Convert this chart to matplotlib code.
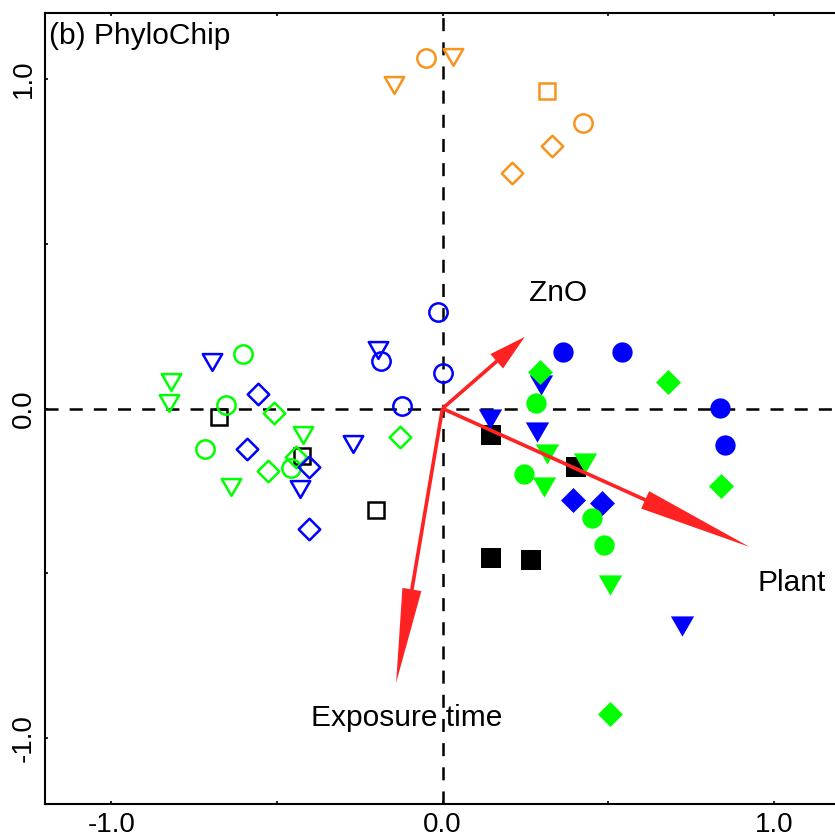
import matplotlib
matplotlib.use("Agg")
import matplotlib.pyplot as plt
from matplotlib.path import Path

plt.rcParams['font.family'] = ['Liberation Sans', 'DejaVu Sans']
plt.rcParams['axes.unicode_minus'] = False

# ---------------- data (site scores) ----------------
# shape codes: o circle, v down-triangle, D diamond, s square
orange_open_x = [-0.049, 0.424, 0.031, -0.145, 0.316, 0.331, 0.211]
orange_open_y = [1.063, 0.865, 1.067, 0.982, 0.964, 0.795, 0.715]
orange_open_shape = ['o', 'o', 'v', 'v', 's', 'D', 'D']

green_open_x = [-0.820, -0.825, -0.603, -0.653, -0.508, -0.716, -0.422, -0.442, -0.457, -0.528, -0.638, -0.127]
green_open_y = [0.081, 0.018, 0.165, 0.011, -0.015, -0.123, -0.080, -0.148, -0.181, -0.191, -0.237, -0.087]
green_open_shape = ['v', 'v', 'o', 'o', 'D', 'o', 'v', 'D', 'o', 'D', 'v', 'D']

blue_open_x = [-0.696, -0.556, -0.590, -0.402, -0.430, -0.404, -0.269, -0.195, -0.185, -0.123, 0.001, -0.015]
blue_open_y = [0.140, 0.043, -0.123, -0.179, -0.244, -0.365, -0.108, 0.177, 0.144, 0.008, 0.109, 0.293]
blue_open_shape = ['v', 'D', 'D', 'D', 'v', 'D', 'v', 'v', 'o', 'o', 'o', 'o']

black_open_x = [-0.674, -0.424, -0.202]
black_open_y = [-0.027, -0.143, -0.308]
black_open_shape = ['s', 's', 's']

black_fill_x = [0.145, 0.404, 0.145, 0.268]
black_fill_y = [-0.080, -0.176, -0.453, -0.461]
black_fill_shape = ['s', 's', 's', 's']

blue_fill_x = [0.363, 0.543, 0.837, 0.852, 0.298, 0.144, 0.285, 0.722, 0.394, 0.481]
blue_fill_y = [0.172, 0.170, 0.002, -0.110, 0.071, -0.033, -0.070, -0.660, -0.277, -0.287]
blue_fill_shape = ['o', 'o', 'o', 'o', 'v', 'v', 'v', 'v', 'D', 'D']

green_fill_x = [0.293, 0.281, 0.682, 0.315, 0.246, 0.305, 0.431, 0.452, 0.489, 0.507, 0.840, 0.505]
green_fill_y = [0.111, 0.018, 0.079, -0.138, -0.198, -0.237, -0.164, -0.332, -0.413, -0.537, -0.234, -0.927]
green_fill_shape = ['D', 'o', 'D', 'v', 'o', 'v', 'v', 'o', 'o', 'v', 'D', 'D']

# environmental vectors (biplot arrows)
env_names = ['ZnO', 'Plant', 'Exposure time']
env_x = [0.248, 0.927, -0.140]
env_y = [0.217, -0.420, -0.832]

tick_values = [-1.0, -0.5, 0.0, 0.5, 1.0]
tick_labels = ['-1.0', '', '0.0', '', '1.0']

# ---------------- style ----------------
ORANGE = '#F7941D'
BLUE = '#0000FF'
GREEN = '#00FF00'
BLACK = '#000000'
RED = '#FF2222'

TRI = Path([(-1, 0.866), (1, 0.866), (0, -0.866), (-1, 0.866)],
           [Path.MOVETO, Path.LINETO, Path.LINETO, Path.CLOSEPOLY])
DIA = Path([(0, 1), (1, 0), (0, -1), (-1, 0), (0, 1)],
           [Path.MOVETO, Path.LINETO, Path.LINETO, Path.LINETO, Path.CLOSEPOLY])
MK = {'o': 'o', 'v': TRI, 'D': DIA, 's': 's'}
OPEN_SIZE = {'o': 13.2, 'v': 14.0, 'D': 15.5, 's': 11.0}
FILL_SIZE = {'o': 14.6, 'v': 16.8, 'D': 18.0, 's': 13.7}

fig = plt.figure(figsize=(8.35, 8.40), dpi=100)
ax = fig.add_axes([45 / 835, 36 / 840, 795 / 835, 791 / 840])
ax.set_xlim(-1.2, 1.2)
ax.set_ylim(-1.2, 1.2)

dash = (9.4 / 1.8, 8.0 / 1.8)
ax.axhline(0, color='black', lw=1.8, dashes=dash, zorder=1)
ax.axvline(0, color='black', lw=1.8, dashes=dash, zorder=1)


def draw(xs, ys, shapes, color, filled):
    for x, y, s in zip(xs, ys, shapes):
        if filled:
            ax.plot([x], [y], linestyle='none', marker=MK[s], ms=FILL_SIZE[s],
                    mfc=color, mec='none', mew=0, zorder=3)
        else:
            ax.plot([x], [y], linestyle='none', marker=MK[s], ms=OPEN_SIZE[s],
                    mfc='none', mec=color, mew=1.8, zorder=3)


draw(orange_open_x, orange_open_y, orange_open_shape, ORANGE, False)
draw(black_open_x, black_open_y, black_open_shape, BLACK, False)
draw(green_open_x, green_open_y, green_open_shape, GREEN, False)
draw(blue_open_x, blue_open_y, blue_open_shape, BLUE, False)
draw(black_fill_x, black_fill_y, black_fill_shape, BLACK, True)
draw(blue_fill_x, blue_fill_y, blue_fill_shape, BLUE, True)
draw(green_fill_x, green_fill_y, green_fill_shape, GREEN, True)

for dx, dy in zip(env_x, env_y):
    L = (dx ** 2 + dy ** 2) ** 0.5
    ax.arrow(0, 0, dx, dy, width=0.011, head_width=0.058, head_length=0.34 * L,
             length_includes_head=True, color=RED, lw=0, zorder=4)

label_pos = {'ZnO': (0.350, 0.326), 'Plant': (1.054, -0.554),
             'Exposure time': (-0.107, -0.963)}
for name in env_names:
    lx, ly = label_pos[name]
    ax.text(lx, ly, name, ha='center', va='baseline', fontsize=21.5, zorder=5)

ax.text(0.005, 0.989, '(b) PhyloChip', transform=ax.transAxes, ha='left', va='top',
        fontsize=21.5)

ax.set_xticks(tick_values)
ax.set_xticklabels(tick_labels)
ax.set_yticks(tick_values)
ax.set_yticklabels(tick_labels, rotation=90, va='center')
ax.tick_params(axis='both', direction='in', length=2.5, width=1.2, labelsize=20, pad=6,
               top=True, right=True, labeltop=True, labelright=False)
for sp in ax.spines.values():
    sp.set_linewidth(1.5)

fig.savefig('out.png', dpi=100)
